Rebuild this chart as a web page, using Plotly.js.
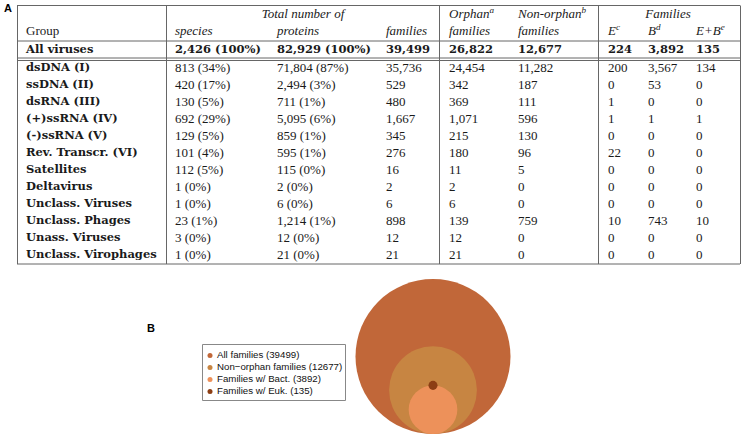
<!DOCTYPE html>
<html>
<head>
<meta charset="utf-8">
<script src="https://cdn.plot.ly/plotly-3.0.1.min.js"></script>
<style>body{margin:0;background:#fff;}</style>
</head>
<body>
<div id="chart" style="width:745px;height:438px;"></div>
<script>
// table data
var groups = ["dsDNA (I)", "ssDNA (II)", "dsRNA (III)", "(+)ssRNA (IV)", "(-)ssRNA (V)",
  "Rev. Transcr. (VI)", "Satellites", "Deltavirus", "Unclass. Viruses",
  "Unclass. Phages", "Unass. Viruses", "Unclass. Virophages"];
var species = [813, 420, 130, 692, 129, 101, 112, 1, 1, 23, 3, 1];
var speciesPct = [34, 17, 5, 29, 5, 4, 5, 0, 0, 1, 0, 0];
var proteins = [71804, 2494, 711, 5095, 859, 595, 115, 2, 6, 1214, 12, 21];
var proteinsPct = [87, 3, 1, 6, 1, 1, 0, 0, 0, 1, 0, 0];
var families = [35736, 529, 480, 1667, 345, 276, 16, 2, 6, 898, 12, 21];
var orphan = [24454, 342, 369, 1071, 215, 180, 11, 2, 6, 139, 12, 21];
var nonOrphan = [11282, 187, 111, 596, 130, 96, 5, 0, 0, 759, 0, 0];
var famE = [200, 0, 1, 1, 0, 22, 0, 0, 0, 10, 0, 0];
var famB = [3567, 53, 0, 1, 0, 0, 0, 0, 0, 743, 0, 0];
var famEB = [134, 0, 0, 1, 0, 0, 0, 0, 0, 10, 0, 0];
// "All viruses" row: species, proteins, families, orphan, non-orphan, E, B, E+B
var totals = [2426, 82929, 39499, 26822, 12677, 224, 3892, 135];

// circle data (panel B)
var circleNames = ["All families", "Non\u2212orphan families", "Families w/ Bact.", "Families w/ Euk."];
var circleValues = [39499, 12677, 3892, 135];
var circleColors = ["#c16739", "#c78542", "#ed915a", "#8c3e14"];

var fmt = function (n) { return n.toLocaleString("en-US"); };

var colX = [26, 175, 277, 386, 449, 518, 608, 648, 696];
var rowY = function (i) { return 68.5 + 17 * i; };
var head1 = 15, head2 = 32, totY = 50.5;

var serif = "Liberation Serif, Times New Roman, serif";
var boldSerif = "DejaVu Serif, serif";
var ink = "#1a1a1a";

// regular cells
var regX = [], regY = [], regT = [];
var cols = [
  groups.map(function (g, i) { return fmt(species[i]) + " (" + speciesPct[i] + "%)"; }),
  groups.map(function (g, i) { return fmt(proteins[i]) + " (" + proteinsPct[i] + "%)"; }),
  families.map(fmt), orphan.map(fmt), nonOrphan.map(fmt),
  famE.map(fmt), famB.map(fmt), famEB.map(fmt)
];
cols.forEach(function (col, c) {
  col.forEach(function (t, i) { regX.push(colX[c + 1]); regY.push(rowY(i)); regT.push(t); });
});
// plain header cell
regX.push(colX[0]); regY.push(head2); regT.push("Group");

// bold cells: group names + totals row
var boldX = [colX[0]], boldY = [totY], boldT = ["All viruses"];
groups.forEach(function (g, i) { boldX.push(colX[0]); boldY.push(rowY(i)); boldT.push(g); });
totals.forEach(function (v, c) {
  var t = fmt(v);
  if (c < 2) t += " (100%)";
  boldX.push(colX[c + 1]); boldY.push(totY); boldT.push(t);
});

// italic header cells
var hX = [colX[4], colX[5], colX[1], colX[2], colX[3], colX[4], colX[5], colX[6], colX[7], colX[8]];
var hY = [head1, head1, head2, head2, head2, head2, head2, head2, head2, head2];
var hT = ["Orphan<sup>a</sup>", "Non-orphan<sup>b</sup>",
  "species", "proteins", "families", "families", "families",
  "E<sup>c</sup>", "B<sup>d</sup>", "E+B<sup>e</sup>"];

var traces = [
  {x: regX, y: regY, text: regT, mode: "text", textposition: "middle right",
   textfont: {family: serif, size: 13, color: ink}, hoverinfo: "skip"},
  {x: boldX, y: boldY, text: boldT, mode: "text", textposition: "middle right",
   textfont: {family: boldSerif, size: 11.5, color: ink, weight: "bold"}, hoverinfo: "skip"},
  {x: hX, y: hY, text: hT, mode: "text", textposition: "middle right",
   textfont: {family: serif, size: 13, color: ink, style: "italic"}, hoverinfo: "skip"},
  {x: [303, 668], y: [head1, head1], text: ["Total number of", "Families"],
   mode: "text", textposition: "middle center",
   textfont: {family: serif, size: 13, color: ink, style: "italic"}, hoverinfo: "skip"}
];

// panel B: nested circles, area proportional to value, tangent at the bottom
var cx = 433, bottom = 434, maxD = 155;
var diam = circleValues.map(function (v) { return maxD * Math.sqrt(v / circleValues[0]); });
var cy = diam.map(function (d) { return bottom - d / 2; });
cy[3] = bottom - diam[2]; // Euk. dot sits on top of the Bact. circle
traces.push({
  x: circleValues.map(function () { return cx; }), y: cy, mode: "markers",
  marker: {size: diam, sizemode: "diameter", color: circleColors, line: {width: 0}, opacity: 1},
  hoverinfo: "skip"
});

// legend
var legY = circleNames.map(function (n, i) { return 355.5 + 12 * i; });
traces.push({
  x: circleNames.map(function () { return 210; }), y: legY, mode: "markers",
  marker: {size: 5, color: circleColors, line: {width: 0}}, hoverinfo: "skip"
});
traces.push({
  x: circleNames.map(function () { return 217; }), y: legY, mode: "text", textposition: "middle right",
  text: circleNames.map(function (n, i) { return n + " (" + circleValues[i] + ")"; }),
  textfont: {family: "Liberation Sans, Arial, sans-serif", size: 9.7, color: "#111"}, hoverinfo: "skip"
});

// table rules
var lc = "#666";
var shapes = [];
function hline(y, x0, x1) { shapes.push({type: "line", xref: "x", yref: "y", x0: x0, x1: x1, y0: y, y1: y, line: {color: lc, width: 1}}); }
function vline(x, y0, y1) { shapes.push({type: "line", xref: "x", yref: "y", x0: x, x1: x, y0: y0, y1: y1, line: {color: lc, width: 1}}); }
hline(5.5, 17, 740);
hline(41, 17, 740);
hline(58, 17, 740);
hline(60.5, 17, 740);
hline(264, 17, 740);
[17, 166, 439, 598, 740].forEach(function (x) { vline(x + 0.5, 5.5, 264); });
shapes.push({type: "rect", xref: "x", yref: "y", x0: 202.5, x1: 345.5, y0: 344.5, y1: 400.5,
  line: {color: "#888", width: 1}, fillcolor: "rgba(0,0,0,0)"});

var layout = {
  width: 745, height: 438,
  margin: {l: 0, r: 0, t: 0, b: 0},
  paper_bgcolor: "#fff", plot_bgcolor: "#fff",
  showlegend: false,
  xaxis: {range: [0, 745], visible: false, fixedrange: true},
  yaxis: {range: [438, 0], visible: false, fixedrange: true},
  shapes: shapes,
  annotations: [
    {text: "A", x: 8, y: 7.5, xref: "x", yref: "y", showarrow: false,
     font: {family: "Liberation Sans, Arial, sans-serif", size: 11, color: "#000", weight: "bold"}},
    {text: "B", x: 151, y: 328, xref: "x", yref: "y", showarrow: false,
     font: {family: "Liberation Sans, Arial, sans-serif", size: 11, color: "#000", weight: "bold"}}
  ]
};

Plotly.newPlot("chart", traces, layout, {displayModeBar: false, staticPlot: true});
</script>
</body>
</html>
